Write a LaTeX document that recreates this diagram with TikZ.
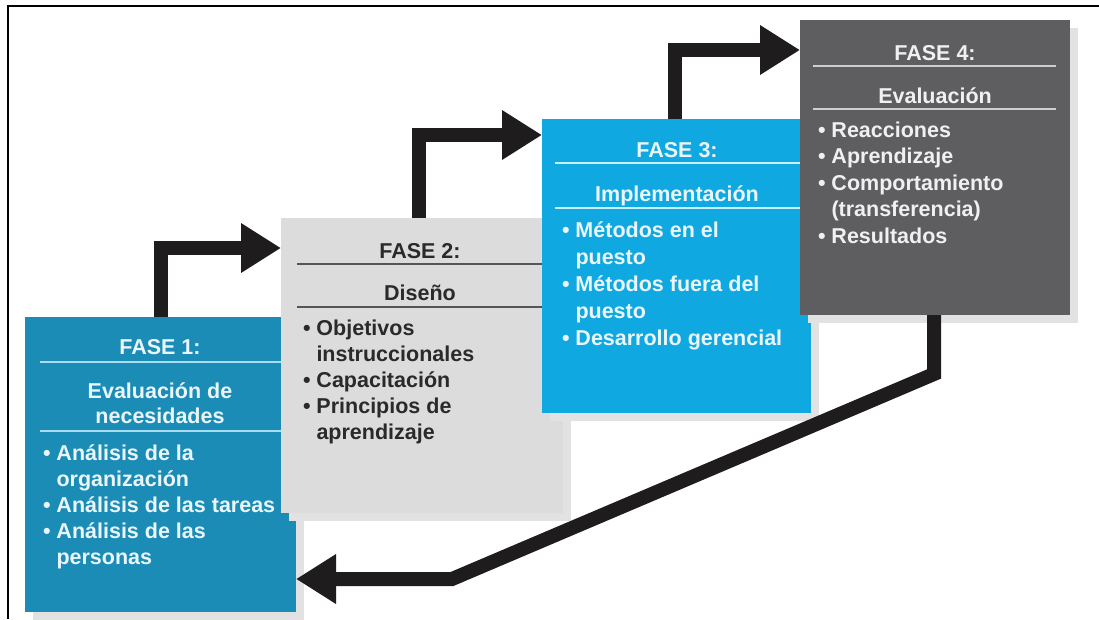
\documentclass[tikz,border=0pt]{standalone}
\usepackage{fontspec}
\setmainfont{Liberation Sans}
\usetikzlibrary{arrows.meta,shadows}

\definecolor{tealbox}{HTML}{1A8CB6}
\definecolor{greybox}{HTML}{DCDCDD}
\definecolor{cyanbox}{HTML}{10A8E1}
\definecolor{darkbox}{HTML}{5E5E60}
\definecolor{arrowc}{HTML}{1E1C1C}
\definecolor{lighttxt}{HTML}{EAF6FB}
\definecolor{darktxt}{HTML}{2A2A2A}
\definecolor{rule1}{HTML}{A6DDF0}
\definecolor{rule2}{HTML}{555555}
\definecolor{rule3}{HTML}{C8F0FF}
\definecolor{rule4}{HTML}{CFCFCF}
\definecolor{shadowc}{HTML}{E2E2E2}

\tikzset{
  phasebox/.style={rectangle, inner sep=0pt, outer sep=0pt, anchor=north west,
    general shadow={fill=shadowc, shadow xshift=8pt, shadow yshift=-8pt}},
  txt/.style={inner sep=0pt, outer sep=0pt,
    font=\bfseries\fontsize{21.5}{26}\selectfont},
  head/.style={txt, anchor=base},
  item/.style={txt, anchor=base west},
  seprule/.style={line width=2pt},
  bigarrow/.style={draw=arrowc, line width=14pt, line join=miter,
    -{Triangle[length=40pt,width=47pt]}, arrowc}
}
\newcommand{\bul}{\textbullet\ }
\newcommand{\ind}{\phantom{\textbullet\ }}

\begin{document}
\begin{tikzpicture}[x=1pt,y=-1pt]
\useasboundingbox (0,0) rectangle (1099,619);
\fill[white] (0,0) rectangle (1099,619);

% outer frame (top and left only)
\draw[line width=2pt, black] (8,619) -- (8,6) -- (1099,6);

% ---------- FASE 1 ----------
\node[phasebox, fill=tealbox, minimum width=271pt, minimum height=295pt] (f1) at (25,317) {};
\begin{scope}[every node/.style={text=lighttxt}]
\node[head] (h1) at (160,354) {FASE 1:};
\node[head] (t1a) at (160,398) {Evaluación de};
\node[head] (t1b) at (160,423) {necesidades};
\node[item] (b1a) at (43,460) {\bul Análisis de la};
\node[item] (b1b) at (43,486) {\ind organización};
\node[item] (b1c) at (43,512) {\bul Análisis de las tareas};
\node[item] (b1d) at (43,538) {\bul Análisis de las};
\node[item] (b1e) at (43,564) {\ind personas};
\end{scope}
\draw[seprule, rule1] (40,362) -- (296,362);
\draw[seprule, rule1] (40,431) -- (296,431);

% ---------- FASE 2 ----------
\node[phasebox, fill=greybox, minimum width=282pt, minimum height=295pt] (f2) at (281,218) {};
\begin{scope}[every node/.style={text=darktxt}]
\node[head] (h2) at (420,258) {FASE 2:};
\node[head] (t2a) at (420,300) {Diseño};
\node[item] (b2a) at (303,335) {\bul Objetivos};
\node[item] (b2b) at (303,361) {\ind instruccionales};
\node[item] (b2c) at (303,387) {\bul Capacitación};
\node[item] (b2d) at (303,413) {\bul Principios de};
\node[item] (b2e) at (303,439) {\ind aprendizaje};
\end{scope}
\draw[seprule, rule2] (297,264) -- (563,264);
\draw[seprule, rule2] (297,307) -- (563,307);

% ---------- FASE 3 ----------
\node[phasebox, fill=cyanbox, minimum width=269pt, minimum height=294pt] (f3) at (542,119) {};
\begin{scope}[every node/.style={text=lighttxt}]
\node[head] (h3) at (677,157) {FASE 3:};
\node[head] (t3a) at (677,201) {Implementación};
\node[item] (b3a) at (562,237) {\bul Métodos en el};
\node[item] (b3b) at (562,264) {\ind puesto};
\node[item] (b3c) at (562,291) {\bul Métodos fuera del};
\node[item] (b3d) at (562,318) {\ind puesto};
\node[item] (b3e) at (562,345) {\bul Desarrollo gerencial};
\end{scope}
\draw[seprule, rule3] (555,163) -- (811,163);
\draw[seprule, rule3] (555,208) -- (811,208);

% ---------- FASE 4 ----------
\node[phasebox, fill=darkbox, minimum width=270pt, minimum height=295pt] (f4) at (800,20) {};
\begin{scope}[every node/.style={text=white!94!black}]
\node[head] (h4) at (935,60) {FASE 4:};
\node[head] (t4a) at (935,103) {Evaluación};
\node[item] (b4a) at (818,137) {\bul Reacciones};
\node[item] (b4b) at (818,163) {\bul Aprendizaje};
\node[item] (b4c) at (818,190) {\bul Comportamiento};
\node[item] (b4d) at (818,216) {\ind (transferencia)};
\node[item] (b4e) at (818,243) {\bul Resultados};
\end{scope}
\draw[seprule, rule4] (813,66) -- (1056,66);
\draw[seprule, rule4] (813,109) -- (1056,109);

% ---------- connecting arrows ----------
\draw[bigarrow] (f1.north) |- (f2.west |- 0,248);
\draw[bigarrow] ([xshift=-3pt]f2.north) |- (f3.west |- 0,135);
\draw[bigarrow] ([xshift=-2pt]f3.north) |- (f4.west |- 0,50);
\coordinate (r1) at (934,374);
\coordinate (r2) at (452,579);
\draw[bigarrow] (f4.south -| r1) -- (r1) -- (r2) -- (f1.east |- r2);
\end{tikzpicture}
\end{document}
